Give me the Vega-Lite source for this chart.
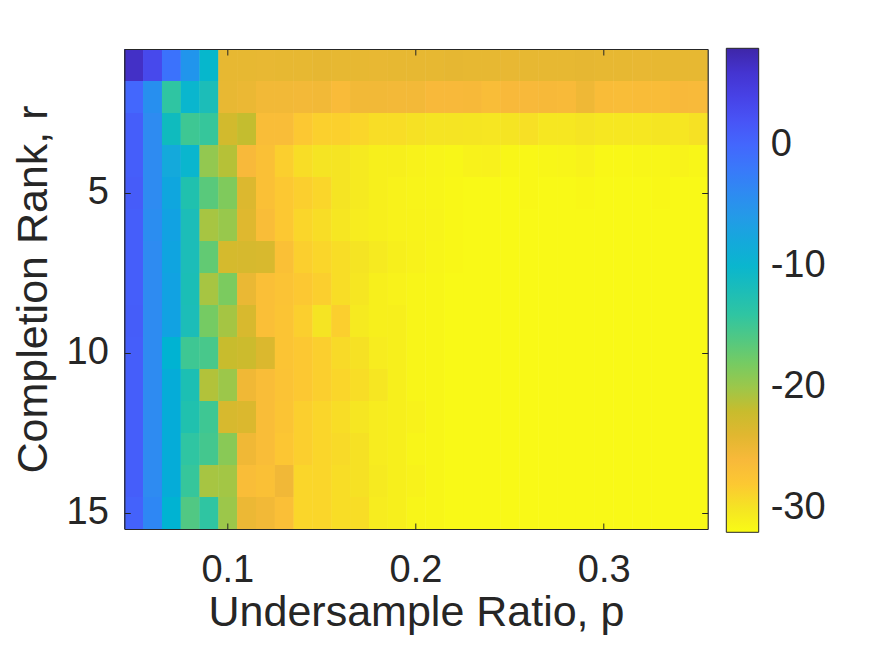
{
"$schema": "https://vega.github.io/schema/vega-lite/v6.json",
"width": 583.4,
"height": 480,
"autosize": {"type": "none"},
"padding": {"left": 124.3, "top": 49, "right": 167.3, "bottom": 127},
"background": "white",
"config": {"view": {"stroke": null}, "font": "Liberation Sans"},
"data": {"values": [
{"p":0.05,"r":1,"v":6.5},{"p":0.06,"r":1,"v":3.2},{"p":0.07,"r":1,"v":-1.2},{"p":0.08,"r":1,"v":-5.2},{"p":0.09,"r":1,"v":-10.2},{"p":0.1,"r":1,"v":-24.5},{"p":0.11,"r":1,"v":-24.5},{"p":0.12,"r":1,"v":-24.6},{"p":0.13,"r":1,"v":-24.5},{"p":0.14,"r":1,"v":-24.5},{"p":0.15,"r":1,"v":-24.4},{"p":0.16,"r":1,"v":-24.5},{"p":0.17,"r":1,"v":-24.5},{"p":0.18,"r":1,"v":-24.6},{"p":0.19,"r":1,"v":-24.5},{"p":0.2,"r":1,"v":-24.5},{"p":0.21,"r":1,"v":-24.5},{"p":0.22,"r":1,"v":-24.4},{"p":0.23,"r":1,"v":-24.5},{"p":0.24,"r":1,"v":-24.5},{"p":0.25,"r":1,"v":-24.6},{"p":0.26,"r":1,"v":-24.5},{"p":0.27,"r":1,"v":-24.5},{"p":0.28,"r":1,"v":-24.5},{"p":0.29,"r":1,"v":-24.4},{"p":0.3,"r":1,"v":-24.5},{"p":0.31,"r":1,"v":-24.5},{"p":0.32,"r":1,"v":-24.6},{"p":0.33,"r":1,"v":-24.5},{"p":0.34,"r":1,"v":-24.5},{"p":0.35,"r":1,"v":-24.5},
{"p":0.05,"r":2,"v":0.0},{"p":0.06,"r":2,"v":-4.5},{"p":0.07,"r":2,"v":-14.0},{"p":0.08,"r":2,"v":-10.0},{"p":0.09,"r":2,"v":-12.0},{"p":0.1,"r":2,"v":-24.6},{"p":0.11,"r":2,"v":-24.9},{"p":0.12,"r":2,"v":-25.5},{"p":0.13,"r":2,"v":-25.5},{"p":0.14,"r":2,"v":-25.6},{"p":0.15,"r":2,"v":-25.5},{"p":0.16,"r":2,"v":-26.3},{"p":0.17,"r":2,"v":-25.5},{"p":0.18,"r":2,"v":-25.5},{"p":0.19,"r":2,"v":-25.6},{"p":0.2,"r":2,"v":-25.6},{"p":0.21,"r":2,"v":-26.0},{"p":0.22,"r":2,"v":-26.0},{"p":0.23,"r":2,"v":-25.9},{"p":0.24,"r":2,"v":-26.5},{"p":0.25,"r":2,"v":-26.0},{"p":0.26,"r":2,"v":-26.0},{"p":0.27,"r":2,"v":-25.9},{"p":0.28,"r":2,"v":-26.2},{"p":0.29,"r":2,"v":-25.2},{"p":0.3,"r":2,"v":-26.4},{"p":0.31,"r":2,"v":-26.5},{"p":0.32,"r":2,"v":-26.4},{"p":0.33,"r":2,"v":-26.4},{"p":0.34,"r":2,"v":-26.0},{"p":0.35,"r":2,"v":-26.1},
{"p":0.05,"r":3,"v":1.0},{"p":0.06,"r":3,"v":-4.0},{"p":0.07,"r":3,"v":-11.5},{"p":0.08,"r":3,"v":-15.0},{"p":0.09,"r":3,"v":-14.5},{"p":0.1,"r":3,"v":-22.8},{"p":0.11,"r":3,"v":-21.8},{"p":0.12,"r":3,"v":-26.5},{"p":0.13,"r":3,"v":-26.5},{"p":0.14,"r":3,"v":-28.0},{"p":0.15,"r":3,"v":-28.6},{"p":0.16,"r":3,"v":-28.6},{"p":0.17,"r":3,"v":-29.0},{"p":0.18,"r":3,"v":-29.5},{"p":0.19,"r":3,"v":-29.5},{"p":0.2,"r":3,"v":-29.8},{"p":0.21,"r":3,"v":-30.0},{"p":0.22,"r":3,"v":-30.0},{"p":0.23,"r":3,"v":-30.1},{"p":0.24,"r":3,"v":-30.2},{"p":0.25,"r":3,"v":-30.0},{"p":0.26,"r":3,"v":-29.7},{"p":0.27,"r":3,"v":-30.3},{"p":0.28,"r":3,"v":-30.3},{"p":0.29,"r":3,"v":-30.0},{"p":0.3,"r":3,"v":-30.3},{"p":0.31,"r":3,"v":-30.3},{"p":0.32,"r":3,"v":-30.3},{"p":0.33,"r":3,"v":-30.1},{"p":0.34,"r":3,"v":-30.2},{"p":0.35,"r":3,"v":-29.8},
{"p":0.05,"r":4,"v":1.0},{"p":0.06,"r":4,"v":-4.0},{"p":0.07,"r":4,"v":-8.0},{"p":0.08,"r":4,"v":-10.0},{"p":0.09,"r":4,"v":-19.5},{"p":0.1,"r":4,"v":-21.2},{"p":0.11,"r":4,"v":-26.0},{"p":0.12,"r":4,"v":-27.0},{"p":0.13,"r":4,"v":-28.5},{"p":0.14,"r":4,"v":-29.5},{"p":0.15,"r":4,"v":-30.0},{"p":0.16,"r":4,"v":-30.0},{"p":0.17,"r":4,"v":-30.5},{"p":0.18,"r":4,"v":-31.0},{"p":0.19,"r":4,"v":-31.0},{"p":0.2,"r":4,"v":-31.2},{"p":0.21,"r":4,"v":-31.4},{"p":0.22,"r":4,"v":-31.6},{"p":0.23,"r":4,"v":-31.2},{"p":0.24,"r":4,"v":-31.1},{"p":0.25,"r":4,"v":-31.6},{"p":0.26,"r":4,"v":-31.7},{"p":0.27,"r":4,"v":-31.6},{"p":0.28,"r":4,"v":-31.5},{"p":0.29,"r":4,"v":-31.2},{"p":0.3,"r":4,"v":-31.7},{"p":0.31,"r":4,"v":-31.7},{"p":0.32,"r":4,"v":-31.6},{"p":0.33,"r":4,"v":-31.6},{"p":0.34,"r":4,"v":-31.3},{"p":0.35,"r":4,"v":-31.6},
{"p":0.05,"r":5,"v":1.2},{"p":0.06,"r":5,"v":-4.0},{"p":0.07,"r":5,"v":-7.5},{"p":0.08,"r":5,"v":-13.0},{"p":0.09,"r":5,"v":-16.5},{"p":0.1,"r":5,"v":-18.5},{"p":0.11,"r":5,"v":-23.6},{"p":0.12,"r":5,"v":-27.0},{"p":0.13,"r":5,"v":-28.0},{"p":0.14,"r":5,"v":-28.5},{"p":0.15,"r":5,"v":-29.0},{"p":0.16,"r":5,"v":-30.0},{"p":0.17,"r":5,"v":-30.5},{"p":0.18,"r":5,"v":-31.0},{"p":0.19,"r":5,"v":-31.2},{"p":0.2,"r":5,"v":-31.4},{"p":0.21,"r":5,"v":-31.5},{"p":0.22,"r":5,"v":-31.7},{"p":0.23,"r":5,"v":-31.8},{"p":0.24,"r":5,"v":-31.8},{"p":0.25,"r":5,"v":-31.8},{"p":0.26,"r":5,"v":-31.7},{"p":0.27,"r":5,"v":-31.8},{"p":0.28,"r":5,"v":-31.8},{"p":0.29,"r":5,"v":-31.7},{"p":0.3,"r":5,"v":-31.8},{"p":0.31,"r":5,"v":-31.8},{"p":0.32,"r":5,"v":-31.8},{"p":0.33,"r":5,"v":-31.7},{"p":0.34,"r":5,"v":-31.8},{"p":0.35,"r":5,"v":-31.8},
{"p":0.05,"r":6,"v":1.0},{"p":0.06,"r":6,"v":-4.2},{"p":0.07,"r":6,"v":-7.0},{"p":0.08,"r":6,"v":-12.0},{"p":0.09,"r":6,"v":-20.5},{"p":0.1,"r":6,"v":-19.8},{"p":0.11,"r":6,"v":-23.8},{"p":0.12,"r":6,"v":-26.5},{"p":0.13,"r":6,"v":-28.0},{"p":0.14,"r":6,"v":-29.0},{"p":0.15,"r":6,"v":-29.5},{"p":0.16,"r":6,"v":-30.2},{"p":0.17,"r":6,"v":-30.7},{"p":0.18,"r":6,"v":-31.0},{"p":0.19,"r":6,"v":-31.2},{"p":0.2,"r":6,"v":-31.3},{"p":0.21,"r":6,"v":-31.4},{"p":0.22,"r":6,"v":-31.7},{"p":0.23,"r":6,"v":-31.8},{"p":0.24,"r":6,"v":-31.8},{"p":0.25,"r":6,"v":-31.8},{"p":0.26,"r":6,"v":-31.8},{"p":0.27,"r":6,"v":-31.8},{"p":0.28,"r":6,"v":-31.8},{"p":0.29,"r":6,"v":-31.8},{"p":0.3,"r":6,"v":-31.8},{"p":0.31,"r":6,"v":-31.8},{"p":0.32,"r":6,"v":-31.8},{"p":0.33,"r":6,"v":-31.8},{"p":0.34,"r":6,"v":-31.8},{"p":0.35,"r":6,"v":-31.8},
{"p":0.05,"r":7,"v":1.0},{"p":0.06,"r":7,"v":-4.0},{"p":0.07,"r":7,"v":-7.2},{"p":0.08,"r":7,"v":-12.0},{"p":0.09,"r":7,"v":-17.0},{"p":0.1,"r":7,"v":-23.0},{"p":0.11,"r":7,"v":-23.1},{"p":0.12,"r":7,"v":-23.3},{"p":0.13,"r":7,"v":-27.0},{"p":0.14,"r":7,"v":-28.5},{"p":0.15,"r":7,"v":-29.0},{"p":0.16,"r":7,"v":-29.5},{"p":0.17,"r":7,"v":-30.0},{"p":0.18,"r":7,"v":-30.5},{"p":0.19,"r":7,"v":-31.0},{"p":0.2,"r":7,"v":-31.2},{"p":0.21,"r":7,"v":-31.5},{"p":0.22,"r":7,"v":-31.7},{"p":0.23,"r":7,"v":-31.8},{"p":0.24,"r":7,"v":-31.8},{"p":0.25,"r":7,"v":-31.8},{"p":0.26,"r":7,"v":-31.8},{"p":0.27,"r":7,"v":-31.8},{"p":0.28,"r":7,"v":-31.8},{"p":0.29,"r":7,"v":-31.8},{"p":0.3,"r":7,"v":-31.8},{"p":0.31,"r":7,"v":-31.8},{"p":0.32,"r":7,"v":-31.8},{"p":0.33,"r":7,"v":-31.8},{"p":0.34,"r":7,"v":-31.8},{"p":0.35,"r":7,"v":-31.8},
{"p":0.05,"r":8,"v":1.0},{"p":0.06,"r":8,"v":-4.0},{"p":0.07,"r":8,"v":-7.0},{"p":0.08,"r":8,"v":-12.2},{"p":0.09,"r":8,"v":-20.5},{"p":0.1,"r":8,"v":-18.3},{"p":0.11,"r":8,"v":-24.8},{"p":0.12,"r":8,"v":-26.8},{"p":0.13,"r":8,"v":-27.3},{"p":0.14,"r":8,"v":-28.0},{"p":0.15,"r":8,"v":-28.5},{"p":0.16,"r":8,"v":-29.5},{"p":0.17,"r":8,"v":-30.2},{"p":0.18,"r":8,"v":-31.0},{"p":0.19,"r":8,"v":-31.2},{"p":0.2,"r":8,"v":-31.5},{"p":0.21,"r":8,"v":-31.6},{"p":0.22,"r":8,"v":-31.8},{"p":0.23,"r":8,"v":-31.8},{"p":0.24,"r":8,"v":-31.8},{"p":0.25,"r":8,"v":-31.8},{"p":0.26,"r":8,"v":-31.8},{"p":0.27,"r":8,"v":-31.8},{"p":0.28,"r":8,"v":-31.8},{"p":0.29,"r":8,"v":-31.8},{"p":0.3,"r":8,"v":-31.8},{"p":0.31,"r":8,"v":-31.8},{"p":0.32,"r":8,"v":-31.8},{"p":0.33,"r":8,"v":-31.8},{"p":0.34,"r":8,"v":-31.8},{"p":0.35,"r":8,"v":-31.8},
{"p":0.05,"r":9,"v":1.1},{"p":0.06,"r":9,"v":-4.0},{"p":0.07,"r":9,"v":-7.0},{"p":0.08,"r":9,"v":-12.0},{"p":0.09,"r":9,"v":-18.0},{"p":0.1,"r":9,"v":-20.4},{"p":0.11,"r":9,"v":-23.3},{"p":0.12,"r":9,"v":-26.8},{"p":0.13,"r":9,"v":-27.5},{"p":0.14,"r":9,"v":-28.5},{"p":0.15,"r":9,"v":-30.0},{"p":0.16,"r":9,"v":-28.5},{"p":0.17,"r":9,"v":-30.5},{"p":0.18,"r":9,"v":-31.0},{"p":0.19,"r":9,"v":-31.0},{"p":0.2,"r":9,"v":-31.5},{"p":0.21,"r":9,"v":-31.6},{"p":0.22,"r":9,"v":-31.8},{"p":0.23,"r":9,"v":-31.8},{"p":0.24,"r":9,"v":-31.8},{"p":0.25,"r":9,"v":-31.8},{"p":0.26,"r":9,"v":-31.8},{"p":0.27,"r":9,"v":-31.8},{"p":0.28,"r":9,"v":-31.8},{"p":0.29,"r":9,"v":-31.8},{"p":0.3,"r":9,"v":-31.8},{"p":0.31,"r":9,"v":-31.8},{"p":0.32,"r":9,"v":-31.8},{"p":0.33,"r":9,"v":-31.8},{"p":0.34,"r":9,"v":-31.8},{"p":0.35,"r":9,"v":-31.8},
{"p":0.05,"r":10,"v":1.0},{"p":0.06,"r":10,"v":-4.0},{"p":0.07,"r":10,"v":-9.5},{"p":0.08,"r":10,"v":-15.0},{"p":0.09,"r":10,"v":-15.5},{"p":0.1,"r":10,"v":-22.0},{"p":0.11,"r":10,"v":-22.3},{"p":0.12,"r":10,"v":-23.5},{"p":0.13,"r":10,"v":-27.5},{"p":0.14,"r":10,"v":-28.0},{"p":0.15,"r":10,"v":-28.5},{"p":0.16,"r":10,"v":-29.3},{"p":0.17,"r":10,"v":-29.8},{"p":0.18,"r":10,"v":-30.7},{"p":0.19,"r":10,"v":-31.0},{"p":0.2,"r":10,"v":-31.5},{"p":0.21,"r":10,"v":-31.6},{"p":0.22,"r":10,"v":-31.8},{"p":0.23,"r":10,"v":-31.8},{"p":0.24,"r":10,"v":-31.8},{"p":0.25,"r":10,"v":-31.8},{"p":0.26,"r":10,"v":-31.8},{"p":0.27,"r":10,"v":-31.8},{"p":0.28,"r":10,"v":-31.8},{"p":0.29,"r":10,"v":-31.8},{"p":0.3,"r":10,"v":-31.8},{"p":0.31,"r":10,"v":-31.8},{"p":0.32,"r":10,"v":-31.8},{"p":0.33,"r":10,"v":-31.8},{"p":0.34,"r":10,"v":-31.8},{"p":0.35,"r":10,"v":-31.8},
{"p":0.05,"r":11,"v":1.0},{"p":0.06,"r":11,"v":-4.0},{"p":0.07,"r":11,"v":-8.5},{"p":0.08,"r":11,"v":-12.5},{"p":0.09,"r":11,"v":-21.0},{"p":0.1,"r":11,"v":-20.0},{"p":0.11,"r":11,"v":-25.3},{"p":0.12,"r":11,"v":-26.5},{"p":0.13,"r":11,"v":-27.3},{"p":0.14,"r":11,"v":-28.0},{"p":0.15,"r":11,"v":-28.5},{"p":0.16,"r":11,"v":-29.0},{"p":0.17,"r":11,"v":-29.5},{"p":0.18,"r":11,"v":-30.2},{"p":0.19,"r":11,"v":-31.0},{"p":0.2,"r":11,"v":-31.5},{"p":0.21,"r":11,"v":-31.6},{"p":0.22,"r":11,"v":-31.8},{"p":0.23,"r":11,"v":-31.8},{"p":0.24,"r":11,"v":-31.8},{"p":0.25,"r":11,"v":-31.8},{"p":0.26,"r":11,"v":-31.8},{"p":0.27,"r":11,"v":-31.8},{"p":0.28,"r":11,"v":-31.8},{"p":0.29,"r":11,"v":-31.8},{"p":0.3,"r":11,"v":-31.8},{"p":0.31,"r":11,"v":-31.8},{"p":0.32,"r":11,"v":-31.8},{"p":0.33,"r":11,"v":-31.8},{"p":0.34,"r":11,"v":-31.8},{"p":0.35,"r":11,"v":-31.8},
{"p":0.05,"r":12,"v":1.0},{"p":0.06,"r":12,"v":-4.0},{"p":0.07,"r":12,"v":-8.5},{"p":0.08,"r":12,"v":-13.0},{"p":0.09,"r":12,"v":-15.0},{"p":0.1,"r":12,"v":-23.2},{"p":0.11,"r":12,"v":-23.5},{"p":0.12,"r":12,"v":-26.5},{"p":0.13,"r":12,"v":-27.5},{"p":0.14,"r":12,"v":-28.5},{"p":0.15,"r":12,"v":-29.0},{"p":0.16,"r":12,"v":-29.5},{"p":0.17,"r":12,"v":-30.2},{"p":0.18,"r":12,"v":-30.7},{"p":0.19,"r":12,"v":-31.0},{"p":0.2,"r":12,"v":-31.2},{"p":0.21,"r":12,"v":-31.6},{"p":0.22,"r":12,"v":-31.8},{"p":0.23,"r":12,"v":-31.8},{"p":0.24,"r":12,"v":-31.8},{"p":0.25,"r":12,"v":-31.8},{"p":0.26,"r":12,"v":-31.8},{"p":0.27,"r":12,"v":-31.8},{"p":0.28,"r":12,"v":-31.8},{"p":0.29,"r":12,"v":-31.8},{"p":0.3,"r":12,"v":-31.8},{"p":0.31,"r":12,"v":-31.8},{"p":0.32,"r":12,"v":-31.8},{"p":0.33,"r":12,"v":-31.8},{"p":0.34,"r":12,"v":-31.8},{"p":0.35,"r":12,"v":-31.8},
{"p":0.05,"r":13,"v":1.0},{"p":0.06,"r":13,"v":-4.0},{"p":0.07,"r":13,"v":-8.5},{"p":0.08,"r":13,"v":-14.0},{"p":0.09,"r":13,"v":-15.3},{"p":0.1,"r":13,"v":-19.0},{"p":0.11,"r":13,"v":-25.3},{"p":0.12,"r":13,"v":-26.5},{"p":0.13,"r":13,"v":-27.8},{"p":0.14,"r":13,"v":-28.5},{"p":0.15,"r":13,"v":-29.0},{"p":0.16,"r":13,"v":-29.3},{"p":0.17,"r":13,"v":-29.8},{"p":0.18,"r":13,"v":-30.7},{"p":0.19,"r":13,"v":-31.0},{"p":0.2,"r":13,"v":-31.5},{"p":0.21,"r":13,"v":-31.6},{"p":0.22,"r":13,"v":-31.8},{"p":0.23,"r":13,"v":-31.8},{"p":0.24,"r":13,"v":-31.8},{"p":0.25,"r":13,"v":-31.8},{"p":0.26,"r":13,"v":-31.8},{"p":0.27,"r":13,"v":-31.8},{"p":0.28,"r":13,"v":-31.8},{"p":0.29,"r":13,"v":-31.8},{"p":0.3,"r":13,"v":-31.8},{"p":0.31,"r":13,"v":-31.8},{"p":0.32,"r":13,"v":-31.8},{"p":0.33,"r":13,"v":-31.8},{"p":0.34,"r":13,"v":-31.8},{"p":0.35,"r":13,"v":-31.8},
{"p":0.05,"r":14,"v":1.0},{"p":0.06,"r":14,"v":-4.0},{"p":0.07,"r":14,"v":-8.5},{"p":0.08,"r":14,"v":-14.5},{"p":0.09,"r":14,"v":-20.5},{"p":0.1,"r":14,"v":-20.3},{"p":0.11,"r":14,"v":-26.5},{"p":0.12,"r":14,"v":-27.0},{"p":0.13,"r":14,"v":-25.4},{"p":0.14,"r":14,"v":-29.0},{"p":0.15,"r":14,"v":-29.0},{"p":0.16,"r":14,"v":-29.5},{"p":0.17,"r":14,"v":-29.8},{"p":0.18,"r":14,"v":-30.5},{"p":0.19,"r":14,"v":-31.0},{"p":0.2,"r":14,"v":-31.2},{"p":0.21,"r":14,"v":-31.6},{"p":0.22,"r":14,"v":-31.8},{"p":0.23,"r":14,"v":-31.8},{"p":0.24,"r":14,"v":-31.8},{"p":0.25,"r":14,"v":-31.8},{"p":0.26,"r":14,"v":-31.8},{"p":0.27,"r":14,"v":-31.8},{"p":0.28,"r":14,"v":-31.8},{"p":0.29,"r":14,"v":-31.8},{"p":0.3,"r":14,"v":-31.8},{"p":0.31,"r":14,"v":-31.8},{"p":0.32,"r":14,"v":-31.8},{"p":0.33,"r":14,"v":-31.8},{"p":0.34,"r":14,"v":-31.8},{"p":0.35,"r":14,"v":-31.8},
{"p":0.05,"r":15,"v":0.5},{"p":0.06,"r":15,"v":-3.5},{"p":0.07,"r":15,"v":-9.5},{"p":0.08,"r":15,"v":-16.0},{"p":0.09,"r":15,"v":-14.0},{"p":0.1,"r":15,"v":-20.0},{"p":0.11,"r":15,"v":-25.0},{"p":0.12,"r":15,"v":-25.5},{"p":0.13,"r":15,"v":-26.8},{"p":0.14,"r":15,"v":-29.0},{"p":0.15,"r":15,"v":-29.0},{"p":0.16,"r":15,"v":-29.5},{"p":0.17,"r":15,"v":-29.5},{"p":0.18,"r":15,"v":-30.7},{"p":0.19,"r":15,"v":-31.0},{"p":0.2,"r":15,"v":-31.5},{"p":0.21,"r":15,"v":-31.6},{"p":0.22,"r":15,"v":-31.8},{"p":0.23,"r":15,"v":-31.8},{"p":0.24,"r":15,"v":-31.8},{"p":0.25,"r":15,"v":-31.8},{"p":0.26,"r":15,"v":-31.8},{"p":0.27,"r":15,"v":-31.8},{"p":0.28,"r":15,"v":-31.8},{"p":0.29,"r":15,"v":-31.8},{"p":0.3,"r":15,"v":-31.8},{"p":0.31,"r":15,"v":-31.8},{"p":0.32,"r":15,"v":-31.8},{"p":0.33,"r":15,"v":-31.8},{"p":0.34,"r":15,"v":-31.8},{"p":0.35,"r":15,"v":-31.8}
]},
"layer": [
{
"mark": {"type": "rect"},
"encoding": {
"x": {"field": "p", "type": "ordinal", "scale": {"type": "band", "paddingInner": 0, "paddingOuter": 0, "round": false},
 "axis": {"orient": "bottom", "values": [0.1, 0.2, 0.3], "labelAngle": 0, "labelFontSize": 38, "labelColor": "#262626", "labelPadding": 28, "tickSize": -6, "tickColor": "#262626", "tickWidth": 1, "domainColor": "#262626", "domainWidth": 1.2, "grid": false, "zindex": 1,
  "title": "Undersample Ratio, p", "titleFontSize": 43, "titleFontWeight": "normal", "titleColor": "#262626", "titleBaseline": "alphabetic", "titleX": 291.7, "titleY": 96}},
"y": {"field": "r", "type": "ordinal", "scale": {"type": "band", "paddingInner": 0, "paddingOuter": 0, "round": false},
 "axis": {"orient": "left", "values": [5, 10, 15], "labelFontSize": 38, "labelColor": "#262626", "labelPadding": 22, "tickSize": -6, "tickColor": "#262626", "tickWidth": 1, "domainColor": "#262626", "domainWidth": 1.2, "grid": false, "zindex": 1,
  "title": "Completion Rank, r", "titleFontSize": 43, "titleFontWeight": "normal", "titleColor": "#262626", "titleBaseline": "alphabetic", "titleAngle": -90, "titleX": -78, "titleY": 240}},
"color": {"field": "v", "type": "quantitative",
 "scale": {"domain": [-32,-30,-28,-26,-24,-22,-20,-18,-16,-14,-12,-10,-8,-6,-4,-2,0,2,4,6,8],
  "range": ["#f9fb15","#f5e423","#fcc832","#f8b93a","#e1b730","#c8bc2d","#9cc74a","#75cb63","#51c883","#2fc5a2","#1cbdb8","#0ab6ce","#14a9db","#239be7","#2e8bf1","#3979fa","#4367fd","#4854f6","#4742e6","#4434d0","#3e26a8"]},
 "legend": {"type": "gradient", "orient": "none", "legendX": 602, "legendY": -0.7, "direction": "vertical", "gradientLength": 484, "gradientThickness": 32.4, "values": [0, -10, -20, -30], "labelExpr": "'' + datum.value", "labelFontSize": 38, "labelColor": "#262626", "labelOffset": 12, "gradientStrokeColor": "#262626", "gradientStrokeWidth": 1, "title": null, "labelOverlap": false}}
}
},
{
"mark": {"type": "rect"},
"encoding": {
"x": {"field": "p", "type": "ordinal", "axis": {"orient": "top", "values": [0.1, 0.2, 0.3], "labels": false, "title": null, "tickSize": -6, "tickColor": "#262626", "tickWidth": 1, "domainColor": "#262626", "domainWidth": 1.2, "grid": false, "zindex": 1}},
"y": {"field": "r", "type": "ordinal", "axis": {"orient": "right", "values": [5, 10, 15], "labels": false, "title": null, "tickSize": -6, "tickColor": "#262626", "tickWidth": 1, "domainColor": "#262626", "domainWidth": 1.2, "grid": false, "zindex": 1}},
"color": {"field": "v", "type": "quantitative"}
}
}
],
"resolve": {"axis": {"x": "independent", "y": "independent"}}
}
